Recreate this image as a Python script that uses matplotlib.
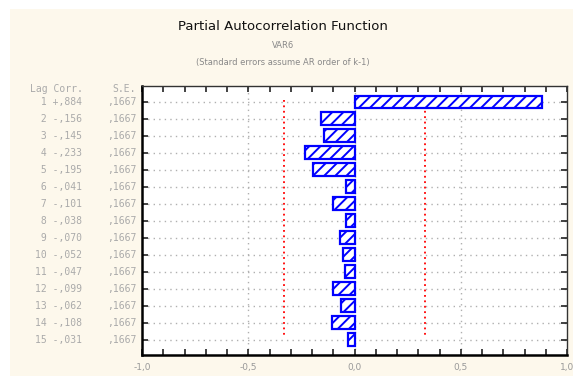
import matplotlib
matplotlib.use("Agg")
import matplotlib.pyplot as plt
from matplotlib.ticker import MultipleLocator
import numpy as np

lags = list(range(1, 16))
pacf = [0.884, -0.156, -0.145, -0.233, -0.195, -0.041, -0.101, -0.038,
        -0.070, -0.052, -0.047, -0.099, -0.062, -0.108, -0.031]
se = [0.1667] * 15
xticks = [-1.0, -0.5, 0.0, 0.5, 1.0]
xticklabels = ["-1,0", "-0,5", "0,0", "0,5", "1,0"]

W, H = 573, 376
plt.rcParams["hatch.linewidth"] = 1.4
fig = plt.figure(figsize=(W / 100, H / 100), dpi=100)
fig.patch.set_facecolor("white")

bg = fig.add_axes([10 / W, 0, 1 - 10 / W, (H - 9) / H], zorder=0)
bg.set_facecolor("#fdf8ec")
bg.set_xticks([])
bg.set_yticks([])
for s in bg.spines.values():
    s.set_visible(False)

ax = fig.add_axes([142 / W, (H - 355) / H, (567 - 142) / W, (355 - 86) / H],
                  zorder=2)
ax.set_facecolor("white")

ax.barh(lags, pacf, height=0.76, color="white", edgecolor="#0000ff",
        hatch="///", linewidth=1.6, zorder=3)

# grid
for l in lags:
    ax.axhline(l, color="#b0b0b0", linestyle=(0, (1, 3)), lw=1, zorder=1)
for xv in [-0.5, 0.0, 0.5]:
    ax.axvline(xv, color="#b0b0b0", linestyle=(0, (1, 3)), lw=1, zorder=1)

# confidence limits
lim = 2 * se[0]
for xv in [-lim, lim]:
    ax.plot([xv, xv], [0.9, 14.75], color="#ff0000", linestyle=(0, (1, 2)),
            lw=1.3, zorder=2)

ax.set_xlim(-1, 1)
ax.set_ylim(15.9, 0.06)
ax.set_xticks(xticks)
ax.set_xticklabels(xticklabels, color="#999999", fontsize=6.5)
ax.xaxis.set_minor_locator(MultipleLocator(0.1))
ax.set_yticks(lags)
ax.set_yticklabels([])
ax.tick_params(axis="x", which="both", direction="in", top=True, bottom=True,
               length=4, width=1.2, color="#222222", pad=6)
ax.tick_params(axis="y", which="both", direction="in", left=True, right=True,
               length=4, width=1.2, color="#222222")
for s in ["left", "bottom"]:
    ax.spines[s].set_linewidth(1.8)
for s in ["top", "right"]:
    ax.spines[s].set_linewidth(1.0)
    ax.spines[s].set_color("#333333")

# titles
fig.text(283 / W, 1 - 27 / H, "Partial Autocorrelation Function", ha="center",
         va="center", fontsize=9.5, color="#111111", zorder=5)
fig.text(283 / W, 1 - 46 / H, "VAR6", ha="center", va="center", fontsize=6,
         color="#888888", zorder=5)
fig.text(283 / W, 1 - 62 / H, "(Standard errors assume AR order of k-1)",
         ha="center", va="center", fontsize=6, color="#888888", zorder=5)

# left table
mono = dict(family="DejaVu Sans Mono", fontsize=7, color="#aaaaaa", zorder=5)
fig.text(30 / W, 1 - 89 / H, "Lag Corr.", ha="left", va="center", **mono)
fig.text(136 / W, 1 - 89 / H, "S.E.", ha="right", va="center", **mono)
for l, v, s in zip(lags, pacf, se):
    y = ax.transData.transform((0, l))[1] / H
    sign = "+" if v >= 0 else "-"
    txt = f"{l:>2} {sign},{int(round(abs(v) * 1000)):03d}"
    fig.text(82 / W, y, txt, ha="right", va="center", **mono)
    fig.text(136 / W, y, f",{int(round(s * 10000)):04d}", ha="right",
             va="center", **mono)

fig.savefig("out.png", dpi=100, facecolor=fig.get_facecolor())
